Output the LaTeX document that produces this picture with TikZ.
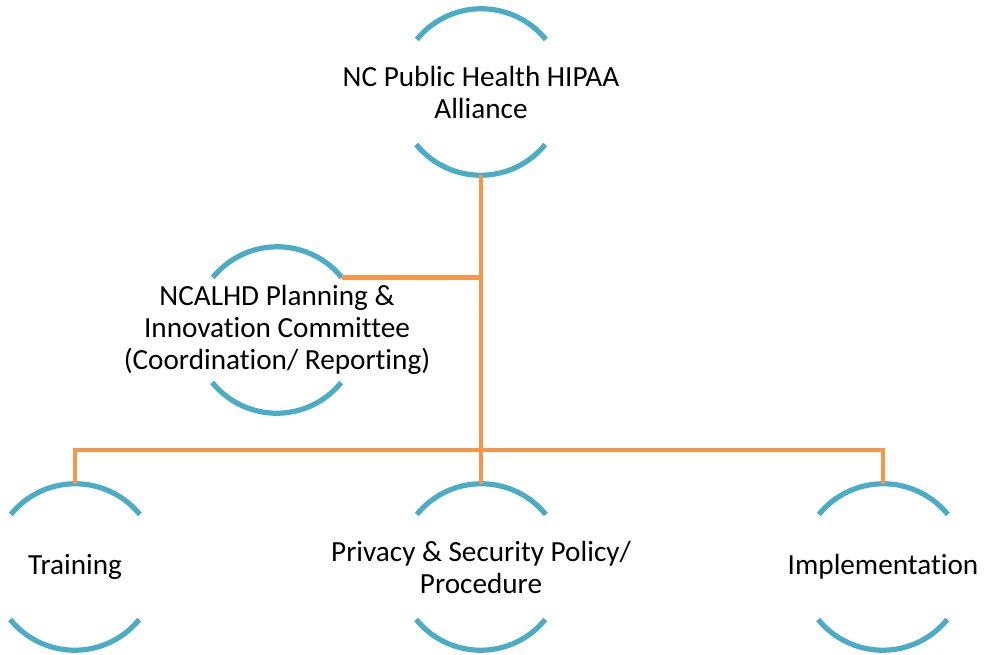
\documentclass[tikz,border=0pt]{standalone}
\usepackage{fontspec}
\setmainfont{Carlito}[Ligatures={NoCommon}]
\definecolor{ringblue}{HTML}{4BACC6}
\definecolor{connorange}{HTML}{F79646}
\begin{document}
\begin{tikzpicture}[x=0.5pt,y=0.5pt,
  ring/.style={circle,minimum size=83pt,inner sep=0pt,draw=none},
  txt/.style={align=center,font=\fontsize{14.6pt}{16pt}\selectfont,inner sep=0pt},
  arcline/.style={draw=ringblue,line width=2.6pt},
  conn/.style={draw=connorange,line width=2.4pt}]
\useasboundingbox (0,0) rectangle (984,654);
% ring positions
\node[ring] (top)   at (481,562) {};
\node[ring] (ncal)  at (277,324) {};
\node[ring] (train) at (75,87) {};
\node[ring] (priv)  at (481,87) {};
\node[ring] (impl)  at (883,87) {};
% arcs
\foreach \n in {top,ncal,train,priv,impl}{
  \draw[arcline] (\n.39) arc[start angle=39,end angle=141,radius=41.5pt];
  \draw[arcline] (\n.-141) arc[start angle=-141,end angle=-39,radius=41.5pt];
}
% texts
\node[txt] (toptext) at (top) {NC Public Health HIPAA\\Alliance};
\node[txt] (ncaltext) at (ncal) {NCALHD Planning \&\\Innovation Committee\\(Coordination/ Reporting)};
\node[txt] (traintext) at (train) {Training};
\node[txt] (privtext) at (priv) {Privacy \& Security Policy/\\Procedure};
\node[txt] (impltext) at (impl) {Implementation};
% connectors
\coordinate (bus) at (481,204);
\draw[conn] (top.south) -- (priv.north);
\draw[conn] (ncal.39) -- (ncal.39 -| top.south);
\draw[conn] (train.north) -- (train.north |- bus) -- (impl.north |- bus) -- (impl.north);
\end{tikzpicture}
\end{document}
